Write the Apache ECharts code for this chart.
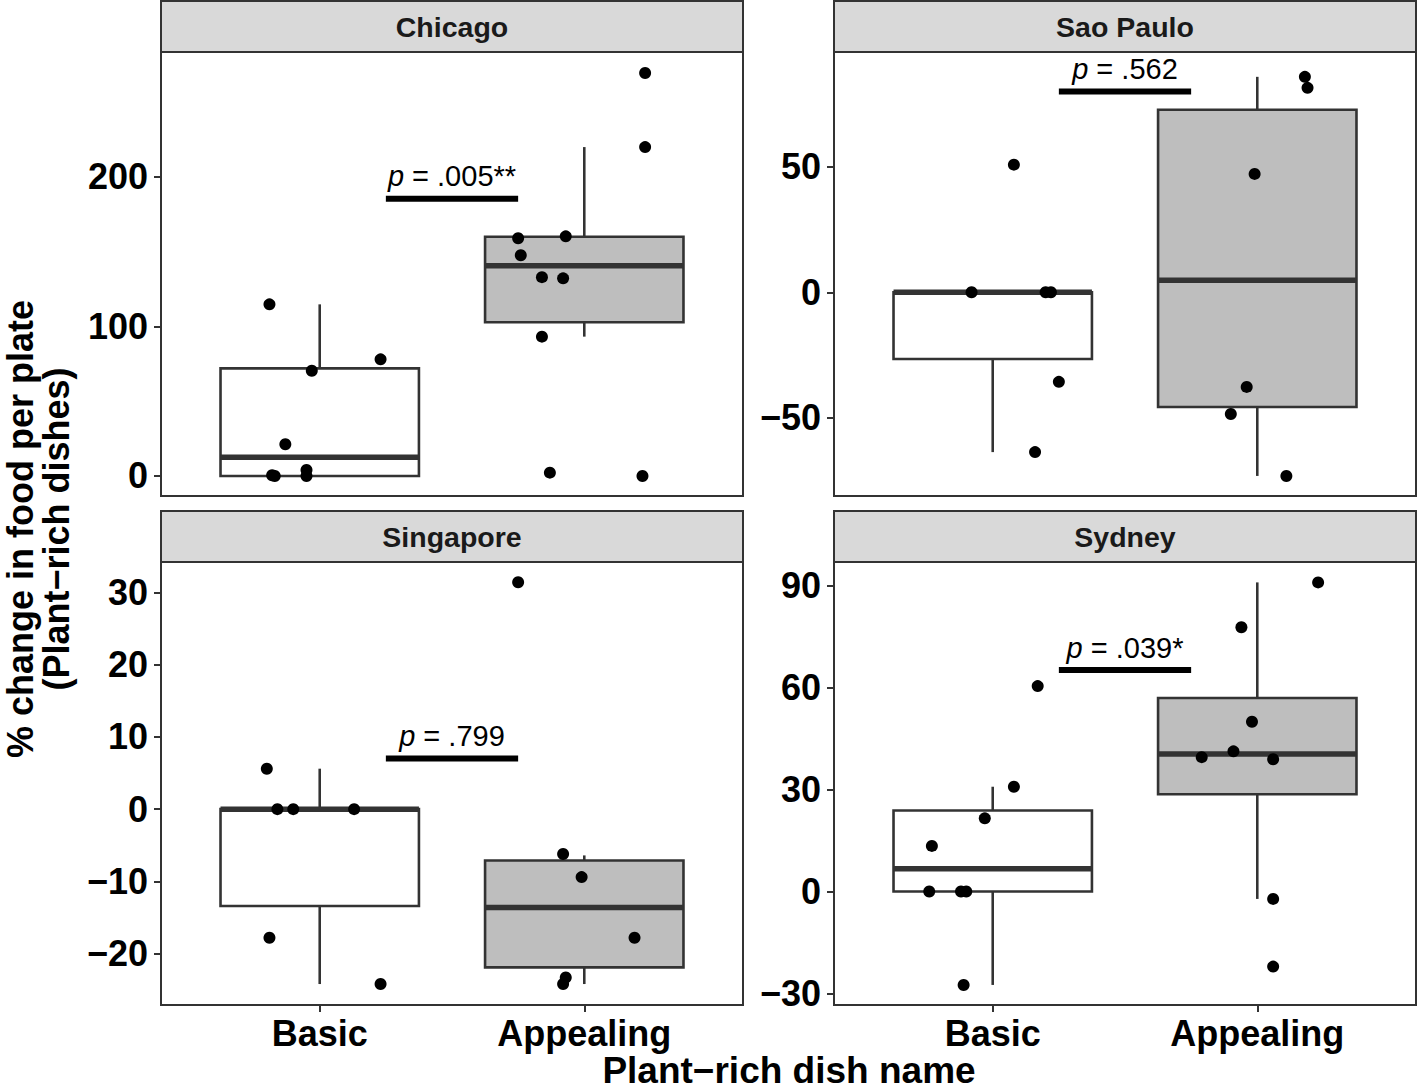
<!DOCTYPE html>
<html>
<head>
<meta charset="utf-8">
<script src="https://cdn.jsdelivr.net/npm/echarts@6/dist/echarts.min.js"></script>
<style>
html,body{margin:0;padding:0;background:#fff;}
#chart{width:1419px;height:1089px;}
</style>
</head>
<body>
<div id="chart"></div>
<script>
// ---------------- DATA ----------------
const panelNames = ['Chicago', 'Sao Paulo', 'Singapore', 'Sydney'];
const groupNames = ['Basic', 'Appealing'];

// y-axis ticks per panel
const chicagoTicks = [0, 100, 200];
const saoPauloTicks = [-50, 0, 50];
const singaporeTicks = [-20, -10, 0, 10, 20, 30];
const sydneyTicks = [-30, 0, 30, 60, 90];

// y-axis ranges [min, max]
const chicagoRange = [-13.4, 283.6];
const saoPauloRange = [-81.2, 95.8];
const singaporeRange = [-27.1, 34.2];
const sydneyRange = [-33.4, 96.9];

// box stats [lowerWhisker, Q1, median, Q3, upperWhisker]
const chicagoBasicBox = [0, 0, 12.5, 72, 114.8];
const chicagoAppealingBox = [93.2, 102.8, 140.6, 160, 220];
const saoPauloBasicBox = [-63.7, -26.6, 0, 0, 0];
const saoPauloAppealingBox = [-73.2, -45.7, 4.8, 72.8, 85.9];
const singaporeBasicBox = [-24.2, -13.4, 0, 0, 5.6];
const singaporeAppealingBox = [-24.2, -21.9, -13.6, -7.1, -6.4];
const sydneyBasicBox = [-27.5, 0, 6.7, 23.8, 30.8];
const sydneyAppealingBox = [-2.2, 28.6, 40.4, 56.9, 90.9];

// individual observations and their horizontal jitter (category units)
const chicagoBasic = [114.8, 78.0, 70.4, 21.2, 4.0, 0.0, 0.5, 0.0];
const chicagoBasicJitter = [-0.19, 0.23, -0.03, -0.13, -0.05, -0.05, -0.18, -0.17];
const chicagoAppealing = [269.6, 220.0, 159.0, 160.3, 147.6, 133.0, 132.2, 93.2, 2.2, 0.0];
const chicagoAppealingJitter = [0.23, 0.23, -0.25, -0.07, -0.24, -0.16, -0.08, -0.16, -0.13, 0.22];

const saoPauloBasic = [50.9, 0, 0, 0, -35.7, -63.7];
const saoPauloBasicJitter = [0.08, -0.08, 0.20, 0.22, 0.25, 0.16];
const saoPauloAppealing = [85.9, 81.5, 47.2, -37.7, -48.5, -73.2];
const saoPauloAppealingJitter = [0.18, 0.19, -0.01, -0.04, -0.10, 0.11];

const singaporeBasic = [5.6, 0, 0, 0, -17.8, -24.2];
const singaporeBasicJitter = [-0.20, -0.16, -0.10, 0.13, -0.19, 0.23];
const singaporeAppealing = [31.4, -6.2, -9.4, -17.8, -23.3, -24.2];
const singaporeAppealingJitter = [-0.25, -0.08, -0.01, 0.19, -0.07, -0.08];

const sydneyBasic = [60.4, 30.8, 21.5, 13.4, 0, 0, 0, -27.5];
const sydneyBasicJitter = [0.17, 0.08, -0.03, -0.23, -0.24, -0.12, -0.10, -0.11];
const sydneyAppealing = [90.9, 77.7, 49.9, 41.2, 39.5, 38.9, -2.2, -22.1];
const sydneyAppealingJitter = [0.23, -0.06, -0.02, -0.09, -0.21, 0.06, 0.06, 0.06];

// significance annotations
const pLabels = ['.005**', '.562', '.799', '.039*'];
const pBarY = [185.5, 80.1, 7.0, 65.1];
const pBarX = [1.25, 1.75];

// titles
const xTitle = 'Plant\u2212rich dish name';
const yTitleLines = ['% change in food per plate', '(Plant\u2212rich dishes)'];

// ---------------- BUILD ----------------
const FONT = "'Liberation Sans', Arial, Helvetica, sans-serif";
const gridPos = [
  {left: 161, top: 52, width: 582, height: 444},
  {left: 834, top: 52, width: 582, height: 444},
  {left: 161, top: 562, width: 582, height: 443},
  {left: 834, top: 562, width: 582, height: 443}
];
const ticksList = [chicagoTicks, saoPauloTicks, singaporeTicks, sydneyTicks];
const rangeList = [chicagoRange, saoPauloRange, singaporeRange, sydneyRange];
const boxList = [
  [chicagoBasicBox, chicagoAppealingBox],
  [saoPauloBasicBox, saoPauloAppealingBox],
  [singaporeBasicBox, singaporeAppealingBox],
  [sydneyBasicBox, sydneyAppealingBox]
];
const ptsList = [
  [[chicagoBasic, chicagoBasicJitter], [chicagoAppealing, chicagoAppealingJitter]],
  [[saoPauloBasic, saoPauloBasicJitter], [saoPauloAppealing, saoPauloAppealingJitter]],
  [[singaporeBasic, singaporeBasicJitter], [singaporeAppealing, singaporeAppealingJitter]],
  [[sydneyBasic, sydneyBasicJitter], [sydneyAppealing, sydneyAppealingJitter]]
];
const boxFill = ['#ffffff', '#bebebe'];
const lineCol = '#333333';

const grids = [], xAxes = [], yAxes = [], series = [], graphics = [];
const fmtNum = v => String(v).replace('-', '\u2212');

for (let i = 0; i < 4; i++) {
  const g = gridPos[i];
  grids.push(Object.assign({show: true, borderColor: lineCol, borderWidth: 2, backgroundColor: '#fff', containLabel: false}, g));
  const bottom = i >= 2;
  xAxes.push({
    type: 'value', gridIndex: i, min: 0.4, max: 2.6, position: 'bottom',
    splitLine: {show: false}, axisLine: {show: false, onZero: false},
    axisTick: {show: bottom, customValues: [1, 2], length: 7, lineStyle: {color: lineCol, width: 2}},
    axisLabel: {show: bottom, customValues: [1, 2], formatter: v => groupNames[Math.round(v) - 1],
      fontSize: 36, fontWeight: 'bold', color: '#000', fontFamily: FONT, margin: 10}
  });
  yAxes.push({
    type: 'value', gridIndex: i, min: rangeList[i][0], max: rangeList[i][1], position: 'left',
    splitLine: {show: false}, axisLine: {show: false, onZero: false},
    axisTick: {show: true, customValues: ticksList[i], length: 7, lineStyle: {color: lineCol, width: 2}},
    axisLabel: {customValues: ticksList[i], formatter: fmtNum,
      fontSize: 36, fontWeight: 'bold', color: '#000', fontFamily: FONT, margin: 13}
  });

  // boxes
  series.push({
    type: 'custom', xAxisIndex: i, yAxisIndex: i, z: 2,
    data: boxList[i].map((b, k) => [k + 1].concat(b)),
    encode: {x: 0, y: [1, 2, 3, 4, 5]},
    renderItem: function (params, api) {
      const x = api.value(0);
      const lo = api.coord([x, api.value(1)]);
      const q1 = api.coord([x, api.value(2)]);
      const md = api.coord([x, api.value(3)]);
      const q3 = api.coord([x, api.value(4)]);
      const hi = api.coord([x, api.value(5)]);
      const hw = api.size([0.75, 0])[0] / 2;
      const cx = lo[0];
      const fill = boxFill[Math.round(x) - 1];
      const kids = [];
      if (Math.abs(lo[1] - q1[1]) > 0.5) kids.push({type: 'line', shape: {x1: cx, y1: lo[1], x2: cx, y2: q1[1]}, style: {stroke: lineCol, lineWidth: 2.6}});
      if (Math.abs(hi[1] - q3[1]) > 0.5) kids.push({type: 'line', shape: {x1: cx, y1: q3[1], x2: cx, y2: hi[1]}, style: {stroke: lineCol, lineWidth: 2.6}});
      kids.push({type: 'rect', shape: {x: cx - hw, y: q3[1], width: 2 * hw, height: q1[1] - q3[1]},
          style: {fill: fill, stroke: lineCol, lineWidth: 2.6}});
      kids.push({type: 'line', shape: {x1: cx - hw, y1: md[1], x2: cx + hw, y2: md[1]}, style: {stroke: lineCol, lineWidth: 5.5}});
      return {type: 'group', children: kids};
    }
  });

  // points
  const pts = [];
  ptsList[i].forEach((pair, k) => {
    pair[0].forEach((v, j) => pts.push([k + 1 + pair[1][j], v]));
  });
  series.push({
    type: 'scatter', xAxisIndex: i, yAxisIndex: i, z: 3,
    symbol: 'circle', symbolSize: 12, itemStyle: {color: '#000', opacity: 1},
    data: pts, silent: true
  });

  // annotation
  const lab = pLabels[i];
  series.push({
    type: 'custom', xAxisIndex: i, yAxisIndex: i, z: 4,
    data: [[pBarX[0], pBarX[1], pBarY[i]]],
    encode: {x: [0, 1], y: 2},
    renderItem: function (params, api) {
      const a = api.coord([api.value(0), api.value(2)]);
      const b = api.coord([api.value(1), api.value(2)]);
      return {type: 'group', children: [
        {type: 'line', shape: {x1: a[0], y1: a[1], x2: b[0], y2: b[1]}, style: {stroke: '#000', lineWidth: 6}},
        {type: 'text', style: {
          text: '{i|p} = ' + lab, x: (a[0] + b[0]) / 2, y: a[1] - 8,
          align: 'center', verticalAlign: 'bottom', textAlign: 'center', textVerticalAlign: 'bottom',
          fontSize: 29, fontFamily: FONT, fill: '#000',
          rich: {i: {fontStyle: 'italic', fontSize: 29, fontFamily: FONT, color: '#000'}}
        }}
      ]};
    }
  });

  // strip
  graphics.push({
    type: 'rect', shape: {x: g.left, y: g.top - 51, width: g.width, height: 51},
    style: {fill: '#d9d9d9', stroke: lineCol, lineWidth: 2}, z: 10
  });
  graphics.push({
    type: 'text', x: g.left + g.width / 2, y: g.top - 25.5, z: 11,
    style: {text: panelNames[i], textAlign: 'center', textVerticalAlign: 'middle',
      fontSize: 28.5, fontWeight: 'bold', fontFamily: FONT, fill: '#1a1a1a'}
  });
}

// axis titles
graphics.push({
  type: 'text', x: 789, y: 1070, z: 11,
  style: {text: xTitle, textAlign: 'center', textVerticalAlign: 'middle',
    fontSize: 37, fontWeight: 'bold', fontFamily: FONT, fill: '#000'}
});
[20, 56].forEach((cx, k) => {
  graphics.push({
    type: 'text', x: cx, y: 529, rotation: Math.PI / 2, z: 11,
    style: {text: yTitleLines[k], textAlign: 'center', textVerticalAlign: 'middle',
      fontSize: 36, fontWeight: 'bold', fontFamily: FONT, fill: '#000'}
  });
});

const chart = echarts.init(document.getElementById('chart'), null, {renderer: 'svg'});
chart.setOption({
  animation: false,
  backgroundColor: '#fff',
  grid: grids, xAxis: xAxes, yAxis: yAxes, series: series,
  graphic: graphics
});
</script>
</body>
</html>
